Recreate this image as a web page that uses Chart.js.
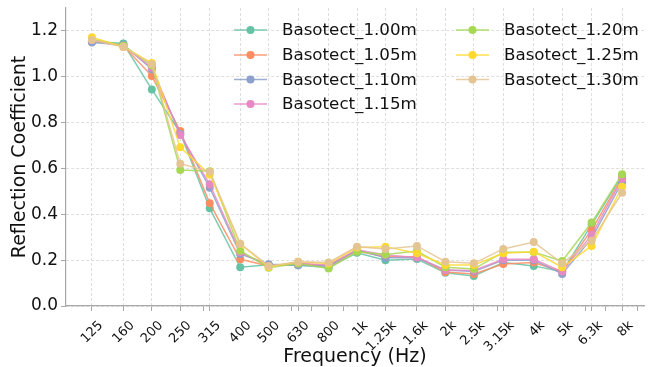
<!DOCTYPE html>
<html>
<head>
<meta charset="utf-8">
<script src="https://cdn.jsdelivr.net/npm/chart.js@4"></script>
<style>
  html, body { margin: 0; padding: 0; background: #fff; }
</style>
</head>
<body>
<canvas id="refl-chart" width="648" height="367"></canvas>
<script>
// frequency bands (1/3 octave) and their tick labels
const freqs = [125, 160, 200, 250, 315, 400, 500, 630, 800, 1000, 1250, 1600, 2000, 2500, 3150, 4000, 5000, 6300, 8000];
const freqLabels = ["125", "160", "200", "250", "315", "400", "500", "630", "800", "1k", "1.25k", "1.6k", "2k", "2.5k", "3.15k", "4k", "5k", "6.3k", "8k"];
const minorFreqs = [300, 600, 700, 900, 3000, 6000, 7000, 9000];
const yTicks = [0, 0.2, 0.4, 0.6, 0.8, 1.0, 1.2];

const seriesNames = ["Basotect_1.00m", "Basotect_1.05m", "Basotect_1.10m", "Basotect_1.15m", "Basotect_1.20m", "Basotect_1.25m", "Basotect_1.30m"];
const seriesColors = ["#66c2a5", "#fc8d62", "#8da0cb", "#e78ac3", "#a6d854", "#ffd92f", "#e5c494"];

const basotect100 = [1.155, 1.145, 0.945, 0.755, 0.426, 0.169, 0.180, 0.178, 0.168, 0.232, 0.200, 0.205, 0.145, 0.131, 0.190, 0.175, 0.150, 0.355, 0.570];
const basotect105 = [1.155, 1.135, 1.003, 0.763, 0.448, 0.204, 0.175, 0.185, 0.175, 0.240, 0.215, 0.215, 0.148, 0.140, 0.183, 0.190, 0.150, 0.332, 0.560];
const basotect110 = [1.150, 1.140, 1.033, 0.750, 0.516, 0.227, 0.182, 0.178, 0.175, 0.245, 0.210, 0.210, 0.157, 0.150, 0.200, 0.200, 0.140, 0.295, 0.540];
const basotect115 = [1.160, 1.135, 1.040, 0.746, 0.531, 0.235, 0.175, 0.185, 0.180, 0.245, 0.222, 0.212, 0.157, 0.155, 0.204, 0.204, 0.150, 0.310, 0.555];
const basotect120 = [1.165, 1.135, 1.050, 0.593, 0.588, 0.241, 0.167, 0.185, 0.164, 0.237, 0.225, 0.240, 0.169, 0.161, 0.235, 0.235, 0.196, 0.364, 0.575];
const basotect125 = [1.172, 1.130, 1.060, 0.692, 0.574, 0.270, 0.170, 0.193, 0.185, 0.255, 0.259, 0.230, 0.179, 0.179, 0.230, 0.237, 0.169, 0.262, 0.520];
const basotect130 = [1.160, 1.130, 1.055, 0.621, 0.586, 0.272, 0.175, 0.193, 0.190, 0.259, 0.249, 0.262, 0.193, 0.186, 0.249, 0.279, 0.186, 0.285, 0.494];
const seriesValues = [basotect100, basotect105, basotect110, basotect115, basotect120, basotect125, basotect130];

const FONT = "'DejaVu Sans', sans-serif";
const spineColor = "#a8a8a8";
const gridColor = "rgba(200,200,200,0.6)";

function withAlpha(hex, a) {
  const n = parseInt(hex.slice(1), 16);
  return `rgba(${(n >> 16) & 255}, ${(n >> 8) & 255}, ${n & 255}, ${a})`;
}

// two-column legend, filled column by column (4 rows then 3)
const columnLegend = {
  id: "columnLegend",
  afterDraw(chart) {
    const c = chart.ctx;
    const colX = [234, 456];
    const rowY = [30, 55, 79.5, 104];
    c.save();
    c.font = "16.7px " + FONT;
    c.textBaseline = "middle";
    chart.data.datasets.forEach((ds, i) => {
      const x0 = colX[Math.floor(i / 4)];
      const y = rowY[i % 4];
      c.strokeStyle = ds.borderColor;
      c.lineWidth = 1.5;
      c.beginPath();
      c.moveTo(x0, y);
      c.lineTo(x0 + 33, y);
      c.stroke();
      c.fillStyle = ds.pointBackgroundColor;
      c.beginPath();
      c.arc(x0 + 16.5, y, 4, 0, Math.PI * 2);
      c.fill();
      c.fillStyle = "#111";
      c.fillText(ds.label, x0 + 48, y + 1);
    });
    c.restore();
  },
};

const datasets = seriesNames.map((name, i) => ({
  label: name,
  data: freqs.map((f, j) => ({ x: f, y: seriesValues[i][j] })),
  borderColor: withAlpha(seriesColors[i], 0.85),
  pointBackgroundColor: seriesColors[i],
  pointBorderColor: seriesColors[i],
  pointRadius: 4,
  pointBorderWidth: 0,
  borderWidth: 1.5,
  tension: 0,
  order: seriesNames.length - i,
}));

var ctx = document.getElementById("refl-chart").getContext("2d");
var reflChart = new Chart(ctx, {
  type: "line",
  data: { datasets: datasets },
  options: {
    responsive: false,
    animation: false,
    layout: { padding: { top: 8, right: 2, left: 0, bottom: 0 } },
    plugins: { legend: { display: false }, tooltip: { enabled: false } },
    scales: {
      x: {
        type: "logarithmic",
        min: 102,
        max: 9500,
        afterBuildTicks: (scale) => {
          const major = freqs.map((v) => ({ value: v }));
          const minor = minorFreqs.map((v) => ({ value: v, minor: true }));
          scale.ticks = major.concat(minor).sort((a, b) => a.value - b.value);
        },
        afterFit: (scale) => {
          scale.height = 61;
          scale.paddingLeft = 0;
          scale.paddingRight = 0;
        },
        ticks: {
          autoSkip: false,
          minRotation: 45,
          maxRotation: 45,
          padding: 7,
          labelOffset: 9,
          color: "#111",
          font: { family: FONT, size: 13 },
          callback: (value, index, ticks) => (ticks[index].minor ? "" : freqLabels[freqs.indexOf(value)]),
        },
        grid: {
          color: (c) => (c.tick && c.tick.minor ? "rgba(0,0,0,0)" : gridColor),
          tickColor: spineColor,
          tickLength: 5,
        },
        border: { color: spineColor, width: 1.2, dash: [3, 2] },
        title: {
          display: true,
          text: "Frequency (Hz)",
          color: "#111",
          font: { family: FONT, size: 19, lineHeight: 1 },
          padding: { top: 0, bottom: 0 },
        },
      },
      y: {
        min: 0,
        max: 1.3,
        afterBuildTicks: (scale) => {
          scale.ticks = yTicks.map((v) => ({ value: v }));
        },
        afterFit: (scale) => {
          scale.width = 66;
          scale.paddingTop = 0;
          scale.paddingBottom = 0;
        },
        ticks: {
          padding: 3,
          color: "#111",
          font: { family: FONT, size: 17 },
          callback: (v) => v.toFixed(1),
        },
        grid: { color: gridColor, tickColor: spineColor, tickLength: 5 },
        border: { color: spineColor, width: 1.2, dash: [3, 2] },
        title: {
          display: true,
          text: "Reflection Coefficient",
          color: "#111",
          font: { family: FONT, size: 19, lineHeight: 1.2 },
          padding: { top: 9 },
        },
      },
    },
  },
  plugins: [columnLegend],
});
</script>
</body>
</html>
